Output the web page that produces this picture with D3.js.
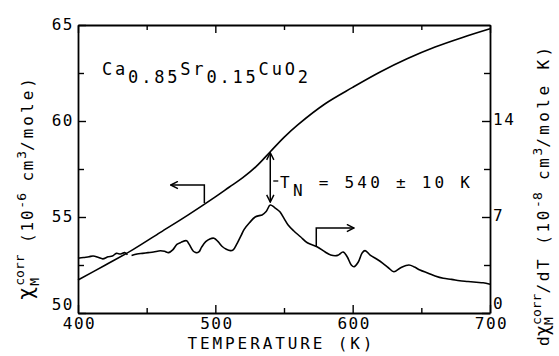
<!DOCTYPE html>
<html lang="en">
<head>
    <title>Ca0.85Sr0.15CuO2 susceptibility</title>
    <script src="https://d3js.org/d3.v7.min.js" charset="utf-8"></script>
    <style>
        body { margin: 0; background: #fff; }
        text { font-family: "DejaVu Sans Mono", monospace; fill: #000; }
    </style>
</head>
<body>
<script>

    var w = 559;
    var h = 356;

    // chi_M corr (10^-6 cm3/mole), left axis
    var chiT = [400, 420, 440, 460, 480, 500, 510, 520, 530, 540, 550, 560, 580, 600, 620, 640, 660, 680, 700];
    var chiV = [51.72, 52.5, 53.3, 54.2, 55.1, 56.05, 56.55, 57.05, 57.65, 58.4, 59.15, 59.8, 60.9, 61.75, 62.55, 63.25, 63.85, 64.35, 64.8];

    // d chi / dT (10^-8 cm3/mole K), right axis ; null = gap in the trace
    var derT = [400, 404, 408, 411, 415, 418, 422, 425, 428, 431, 434, 436, 437, 439, 443, 447, 451, 455, 460, 463, 466, 469,
                472, 475, 479, 481, 484, 486, 488, 490, 493, 496, 499, 502, 505, 508, 511, 513, 516, 519, 521, 525, 529, 532,
                534, 537, 540, 543, 547, 550, 553, 557, 562, 567, 574, 580, 584, 589, 593, 596, 599, 601, 604, 607, 609, 613,
                618, 622, 626, 630, 635, 641, 645, 649, 655, 660, 666, 672, 678, 684, 690, 695, 700];
    var derV = [3.99, 4.05, 4.1, 4.16, 4.05, 3.95, 4.1, 4.15, 4.35, 4.3, 4.4, 4.25, null, 4.2, 4.3, 4.35, 4.4, 4.45, 4.54, 4.5, 4.4, 4.6,
                5.0, 5.15, 5.27, 5.0, 4.5, 4.4, 4.45, 4.8, 5.2, 5.4, 5.45, 5.2, 4.85, 4.65, 4.55, 4.6, 5.1, 5.7, 6.1, 6.6, 7.0, 7.1,
                7.15, 7.4, 7.87, 7.7, 7.38, 6.9, 6.42, 6.0, 5.56, 5.12, 4.83, 4.45, 4.23, 4.2, 4.45, 4.1, 3.5, 3.37, 3.7, 4.4, 4.55, 4.2,
                3.9, 3.62, 3.3, 3.01, 3.3, 3.5, 3.35, 3.13, 2.9, 2.7, 2.53, 2.45, 2.35, 2.3, 2.24, 2.2, 2.1];

    var xMajor = [400, 500, 600, 700];
    var xMinor = [450, 550, 650];
    var yLMajor = [50, 55, 60, 65];
    var yLMinor = [52.5, 57.5, 62.5];
    var yRMajor = [0, 7, 14];
    var yRMinor = [3.5, 10.5, 17.5];

    var TN = 540;

    var x = d3.scaleLinear().domain([400, 700]).range([78, 490]);
    var yL = d3.scaleLinear().domain([50, 65]).range([313, 25]);
    var yR = d3.scaleLinear().domain([0, 21]).range([313, 25]);

    var svg = d3.select("body")
        .append("svg")
        .attr("width", w)
        .attr("height", h);

    var defs = svg.append("defs");
    defs.append("marker")
        .attr("id", "arr")
        .attr("viewBox", "0 0 10 10")
        .attr("refX", 9).attr("refY", 5)
        .attr("markerWidth", 9).attr("markerHeight", 9)
        .attr("markerUnits", "userSpaceOnUse")
        .attr("orient", "auto-start-reverse")
        .append("path")
        .attr("d", "M1,1 L9,5 L1,9")
        .attr("fill", "none")
        .attr("stroke", "#000")
        .attr("stroke-width", 1.6);

    // axes, ticks inside on every side
    function styleAxis(g) {
        g.select(".domain").attr("stroke", "#000").attr("stroke-width", 1.8);
        g.selectAll(".tick line").attr("stroke", "#000").attr("stroke-width", 1.4);
        g.selectAll("text").attr("font-size", 16).attr("letter-spacing", 1.5)
            .attr("font-family", '"DejaVu Sans Mono", monospace');
    }

    var gb = svg.append("g").attr("transform", "translate(0,313)")
        .call(d3.axisBottom(x).tickValues(xMajor).tickSizeInner(-8).tickSizeOuter(0).tickPadding(0).tickFormat(d3.format("d")));
    gb.selectAll("text").attr("y", 16).attr("dy", 0).attr("dx", 1);
    svg.append("g").attr("transform", "translate(0,313)")
        .call(d3.axisBottom(x).tickValues(xMinor).tickSizeInner(-5).tickSizeOuter(0).tickFormat(""))
        .call(function(g) { g.select(".domain").remove(); });

    svg.append("g").attr("transform", "translate(0,25)")
        .call(d3.axisTop(x).tickValues(xMajor).tickSizeInner(-8).tickSizeOuter(0).tickFormat(""))
        .call(styleAxis);
    svg.append("g").attr("transform", "translate(0,25)")
        .call(d3.axisTop(x).tickValues(xMinor).tickSizeInner(-5).tickSizeOuter(0).tickFormat(""))
        .call(function(g) { g.select(".domain").remove(); });

    var gl = svg.append("g").attr("transform", "translate(78,0)")
        .call(d3.axisLeft(yL).tickValues(yLMajor).tickSizeInner(-8).tickSizeOuter(0).tickPadding(4).tickFormat(d3.format("d")));
    gl.selectAll("text").attr("dy", function(d) { return d === 50 ? "-0.2em" : "0.28em"; });
    svg.append("g").attr("transform", "translate(78,0)")
        .call(d3.axisLeft(yL).tickValues(yLMinor).tickSizeInner(-6).tickSizeOuter(0).tickFormat(""))
        .call(function(g) { g.select(".domain").remove(); });

    var gr = svg.append("g").attr("transform", "translate(490,0)")
        .call(d3.axisRight(yR).tickValues(yRMajor).tickSizeInner(-8).tickSizeOuter(0).tickPadding(3).tickFormat(d3.format("d")));
    gr.selectAll("text").attr("dy", function(d) { return d === 0 ? "-0.3em" : "0.2em"; });
    svg.append("g").attr("transform", "translate(490,0)")
        .call(d3.axisRight(yR).tickValues(yRMinor).tickSizeInner(-6).tickSizeOuter(0).tickFormat(""))
        .call(function(g) { g.select(".domain").remove(); });

    svg.selectAll("g").call(styleAxis);

    // curves
    var chiLine = d3.line()
        .x(function(d, i) { return x(chiT[i]); })
        .y(function(d) { return yL(d); })
        .curve(d3.curveCatmullRom);
    svg.append("path")
        .attr("d", chiLine(chiV))
        .attr("fill", "none").attr("stroke", "#000").attr("stroke-width", 1.6);

    var derLine = d3.line()
        .defined(function(d) { return d !== null; })
        .x(function(d, i) { return x(derT[i]); })
        .y(function(d) { return yR(d); })
        .curve(d3.curveCatmullRom);
    svg.append("path")
        .attr("d", derLine(derV))
        .attr("fill", "none").attr("stroke", "#000").attr("stroke-width", 1.6);

    // T_N double arrow
    var chiAtTN = chiV[chiT.indexOf(TN)];
    var derAtTN = derV[derT.indexOf(TN)];
    svg.append("line")
        .attr("x1", x(TN)).attr("x2", x(TN))
        .attr("y1", yL(chiAtTN) + 1).attr("y2", yR(derAtTN) - 3)
        .attr("stroke", "#000").attr("stroke-width", 1.5)
        .attr("marker-start", "url(#arr)").attr("marker-end", "url(#arr)");
    svg.append("line")
        .attr("x1", x(TN) + 3).attr("x2", x(TN) + 8)
        .attr("y1", 181).attr("y2", 181)
        .attr("stroke", "#000").attr("stroke-width", 1.3);

    // axis-pointer arrows
    svg.append("path")
        .attr("d", d3.line()([[x(492), 203], [x(492), 185], [x(467.5), 185]]))
        .attr("fill", "none").attr("stroke", "#000").attr("stroke-width", 1.5)
        .attr("marker-end", "url(#arr)");
    svg.append("path")
        .attr("d", d3.line()([[x(573.5), 247], [x(573.5), 228], [x(601), 228]]))
        .attr("fill", "none").attr("stroke", "#000").attr("stroke-width", 1.5)
        .attr("marker-end", "url(#arr)");

    // labels
    var tn = svg.append("text").attr("x", 280).attr("y", 188).attr("font-size", 16)
        .attr("textLength", 190).attr("lengthAdjust", "spacing");
    tn.append("tspan").text("T");
    tn.append("tspan").attr("dy", 8).text("N");
    tn.append("tspan").attr("dy", -8).text(" = 540 \u00b1 10 K");

    var formula = svg.append("text").attr("x", 102).attr("y", 75).attr("font-size", 17)
        .attr("textLength", 206).attr("lengthAdjust", "spacing");
    formula.append("tspan").text("Ca");
    formula.append("tspan").attr("dy", 8).text("0.85");
    formula.append("tspan").attr("dy", -8).text("Sr");
    formula.append("tspan").attr("dy", 8).text("0.15");
    formula.append("tspan").attr("dy", -8).text("CuO");
    formula.append("tspan").attr("dy", 8).text("2");

    svg.append("text")
        .attr("x", 280).attr("y", 349)
        .attr("text-anchor", "middle")
        .attr("font-size", 16)
        .attr("textLength", 185).attr("lengthAdjust", "spacing")
        .text("TEMPERATURE  (K)");

    // left axis title
    var lt = svg.append("text")
        .attr("transform", "translate(33,300) rotate(-90)")
        .attr("font-size", 16);
    lt.append("tspan").attr("font-size", 22).text("\u03c7");
    lt.append("tspan").attr("font-size", 13).attr("dy", -9).attr("dx", 1).text("corr");
    lt.append("tspan").attr("font-size", 13).attr("dy", 15).attr("dx", -31.3).text("M");
    lt.append("tspan").attr("dy", -6).attr("dx", 23.5).attr("letter-spacing", 1.8).text("  (10");
    lt.append("tspan").attr("font-size", 13).attr("dy", -7).text("-6");
    lt.append("tspan").attr("dy", 7).attr("letter-spacing", 1.8).text(" cm");
    lt.append("tspan").attr("font-size", 13).attr("dy", -7).text("3");
    lt.append("tspan").attr("dy", 7).attr("letter-spacing", 3).text("/mole)");

    // right axis title
    var rt = svg.append("text")
        .attr("transform", "translate(549,346) rotate(-90)")
        .attr("font-size", 16);
    rt.append("tspan").text("d");
    rt.append("tspan").attr("font-size", 19).text("\u03c7");
    rt.append("tspan").attr("font-size", 13).attr("dy", -8).text("corr");
    rt.append("tspan").attr("font-size", 13).attr("dy", 12).attr("dx", -31.3).text("M");
    rt.append("tspan").attr("dy", -4).attr("dx", 23.5).attr("letter-spacing", 2.6).text("/dT  (10");
    rt.append("tspan").attr("font-size", 13).attr("dy", -7).text("-8");
    rt.append("tspan").attr("dy", 7).attr("letter-spacing", 2.6).text("  cm");
    rt.append("tspan").attr("font-size", 13).attr("dy", -7).text("3");
    rt.append("tspan").attr("dy", 7).attr("letter-spacing", 3.4).text("/mole K)");

</script>
</body>
</html>
